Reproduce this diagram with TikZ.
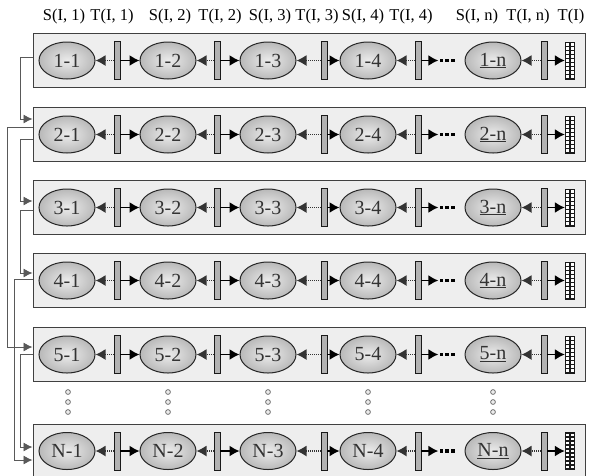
\documentclass[tikz,border=0pt]{standalone}
\usepackage{fontspec}
\setmainfont{Liberation Serif}
\usetikzlibrary{shapes.geometric,arrows.meta}
\begin{document}
\begin{tikzpicture}[x=1pt,y=-1pt,
  rowbox/.style={draw=black!75, line width=1pt, fill=gray!13, minimum width=552pt, minimum height=54pt, inner sep=0},
  cell/.style={ellipse, draw=black!85, line width=1pt, inner color=gray!15, outer color=gray!55, minimum width=56pt, minimum height=37pt, inner sep=0, font=\fontsize{20}{20}\selectfont, text=black!80},
  barbox/.style={draw=black!90, line width=0.9pt, fill=gray!60, minimum width=6pt, minimum height=38pt, inner sep=0},
  gridbox/.style={fill=black!90, minimum width=10pt, minimum height=38pt, inner sep=0},
  toptext/.style={font=\fontsize{16.5}{16.5}\selectfont, inner sep=0},
  dotsbox/.style={minimum width=17pt, minimum height=4pt, inner sep=0},
  back/.style={draw=black!80, line width=1.3pt, dash pattern=on 1pt off 1pt, -{Latex[length=10pt,width=11pt]}},
  fwd/.style={draw=black, line width=1.5pt, -{Latex[length=10pt,width=11pt]}},
  conn/.style={draw=black!65, line width=0.9pt, -{Latex[length=9pt,width=9pt]}}
]
\clip (0,0) rectangle (604,475);
\fill[white] (0,0) rectangle (604,475);

% top labels
\node[toptext] (l1) at (64,17) {S(I, 1)};
\node[toptext] (l2) at (112,17) {T(I, 1)};
\node[toptext] (l3) at (170,17) {S(I, 2)};
\node[toptext] (l4) at (220,17) {T(I, 2)};
\node[toptext] (l5) at (270,17) {S(I, 3)};
\node[toptext] (l6) at (317,17) {T(I, 3)};
\node[toptext] (l7) at (363,17) {S(I, 4)};
\node[toptext] (l8) at (411,17) {T(I, 4)};
\node[toptext] (l9) at (477,17) {S(I, n)};
\node[toptext] (l10) at (528,17) {T(I, n)};
\node[toptext] (l11) at (571,17) {T(I)};

\foreach \rw/\y/\lbl in {1/60.5/1,2/134.5/2,3/207.5/3,4/280.5/4,5/354.5/5,6/451/N}{
  \node[rowbox] (box\rw) at (309,\y) {};
  \node[cell] (e\rw1) at (67,\y) {\lbl-1};
  \node[cell] (e\rw2) at (168,\y) {\lbl-2};
  \node[cell] (e\rw3) at (268,\y) {\lbl-3};
  \node[cell] (e\rw4) at (368,\y) {\lbl-4};
  \node[cell] (e\rw5) at (493,\y) {\underline{\lbl-n}};
  \node[barbox] (b\rw1) at (117,\y) {};
  \node[barbox] (b\rw2) at (217,\y) {};
  \node[barbox] (b\rw3) at (324,\y) {};
  \node[barbox] (b\rw4) at (418,\y) {};
  \node[barbox] (b\rw5) at (544,\y) {};
  \node[gridbox] (g\rw) at (570,\y) {};
  \foreach \i in {-4,...,4}{
    \fill[white] ({566.2},{\y+(\i)*4-1.3}) rectangle ++(2.6,2.6);
    \fill[white] ({571.2},{\y+(\i)*4-1.3}) rectangle ++(2.6,2.6);
  }
  \node[dotsbox] (d\rw) at (447,\y) {};
  \fill[black] (439.5,{\y-1.8}) rectangle ++(3.6,3.6);
  \fill[black] (445.2,{\y-1.8}) rectangle ++(3.6,3.6);
  \fill[black] (450.9,{\y-1.8}) rectangle ++(3.6,3.6);
  \draw[back] (b\rw1.west) -- (e\rw1.east);
  \draw[fwd]  (b\rw1.east) -- (e\rw2.west);
  \draw[back] (b\rw2.west) -- (e\rw2.east);
  \draw[fwd]  (b\rw2.east) -- (e\rw3.west);
  \draw[back] (b\rw3.west) -- (e\rw3.east);
  \draw[fwd]  (b\rw3.east) -- (e\rw4.west);
  \draw[back] (b\rw4.west) -- (e\rw4.east);
  \draw[fwd]  (b\rw4.east) -- (d\rw.west);
  \draw[back] (b\rw5.west) -- (e\rw5.east);
  \draw[fwd]  (b\rw5.east) -- (g\rw.west);
}

% vertical ellipsis circles
\foreach \cx in {68,168,268,368,493}{
  \foreach \cy in {392,402,412}{
    \draw[black!60, line width=0.7pt, fill=gray!15] (\cx,\cy) circle (2.4);
  }
}

% left connectors
\draw[conn] ([yshift=3.5pt]box1.west) -- ++(-12,0) |- ([yshift=15.5pt]box2.west);
\draw[conn] ([yshift=7.5pt]box2.west) -- ++(-25,0) |- ([yshift=7.5pt]box5.west);
\draw[conn] ([yshift=-4.5pt]box2.west) -- ++(-12,0) |- ([yshift=6.5pt]box3.west);
\draw[conn] ([yshift=-2.5pt]box3.west) -- ++(-12,0) |- ([yshift=7.5pt]box4.west);
\draw[conn] ([yshift=1.5pt]box4.west) -- ++(-18,0) |- ([yshift=-9pt]box6.west);
\draw[conn] ([yshift=0.5pt]box5.west) -- ++(-12,0) |- ([yshift=4pt]box6.west);
\end{tikzpicture}
\end{document}
